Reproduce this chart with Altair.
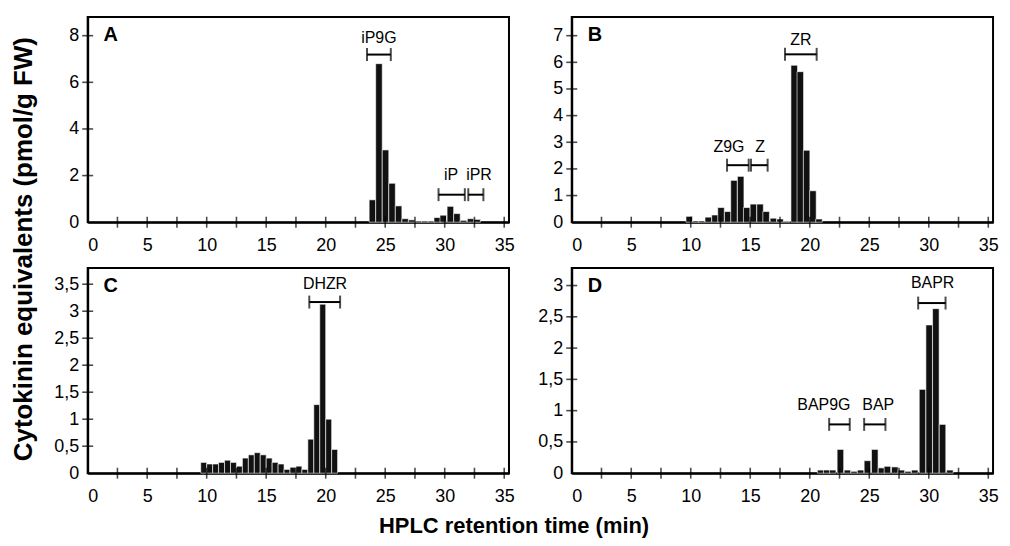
import altair as alt
import pandas as pd

FONT = "Liberation Sans"

# ---------------- data ----------------
# Panel A
a_start = [23.65, 24.2, 24.75, 25.3, 25.85, 26.4, 26.95, 27.5, 28.05, 28.6,
           29.1, 29.6, 30.2, 30.75, 31.3, 31.9, 32.45]
a_val = [0.96, 6.8, 3.1, 1.67, 0.7, 0.15, 0.1, 0.05, 0.05, 0.05,
         0.2, 0.3, 0.68, 0.37, 0.08, 0.15, 0.12]
a_width = 0.55

# Panel B
b_start = [9.6, 10.17, 10.64, 11.2, 11.76, 12.27, 12.83, 13.36, 13.92, 14.43,
           14.99, 15.55, 16.06, 16.67, 17.23, 17.8, 18.42, 18.93, 19.46, 19.99, 20.5]
b_val = [0.22, 0.05, 0.05, 0.19, 0.27, 0.55, 0.4, 1.57, 1.72, 0.55,
         0.68, 0.68, 0.4, 0.15, 0.12, 0.03, 5.89, 5.65, 2.7, 1.18, 0.12]
b_width = 0.55

# Panel C
c_start = [9.5, 10.0, 10.5, 11.0, 11.5, 12.0, 12.5, 13.0, 13.5, 14.0, 14.5, 15.0,
           15.5, 16.0, 16.5, 17.0, 17.5, 18.0, 18.5, 19.0, 19.5, 20.0, 20.5]
c_val = [0.2, 0.17, 0.17, 0.2, 0.24, 0.2, 0.13, 0.28, 0.34, 0.38, 0.34, 0.28,
         0.2, 0.17, 0.07, 0.11, 0.13, 0.07, 0.63, 1.27, 3.13, 1.0, 0.44]
c_width = 0.5

# Panel D
d_start = [20.64, 21.15, 21.65, 22.3, 22.89, 23.45, 24.0, 24.57, 25.19, 25.75,
           26.25, 26.87, 27.43, 27.99, 28.55, 29.2, 29.76, 30.32, 30.88, 31.5]
d_val = [0.05, 0.05, 0.05, 0.38, 0.05, 0.03, 0.05, 0.2, 0.38, 0.085,
         0.11, 0.1, 0.05, 0.03, 0.05, 1.34, 2.37, 2.63, 0.78, 0.05]
d_width = 0.55

# Brackets: label, start, end, bracket level, label x, label y
a_br_label = ["iP9G", "iP", "iPR"]
a_br_x1 = [23.47, 29.48, 31.98]
a_br_x2 = [25.47, 31.69, 33.25]
a_br_y = [7.19, 1.18, 1.18]
a_lb_x = [24.47, 30.53, 32.88]
a_lb_y = [7.89, 2.03, 2.03]

b_br_label = ["ZR", "Z9G", "Z"]
b_br_x1 = [17.92, 13.05, 15.06]
b_br_x2 = [20.58, 14.87, 16.46]
b_br_y = [6.3, 2.14, 2.14]
b_lb_x = [19.26, 13.21, 15.83]
b_lb_y = [6.84, 2.81, 2.81]

c_br_label = ["DHZR"]
c_br_x1 = [18.62]
c_br_x2 = [21.21]
c_br_y = [3.17]
c_lb_x = [19.94]
c_lb_y = [3.51]

d_br_label = ["BAPR", "BAP9G", "BAP"]
d_br_x1 = [29.11, 21.63, 24.57]
d_br_x2 = [31.41, 23.36, 26.36]
d_br_y = [2.72, 0.78, 0.78]
d_lb_x = [30.32, 21.19, 25.75]
d_lb_y = [3.04, 1.09, 1.09]

# Axes
x_labels = [0, 5, 10, 15, 20, 25, 30, 35]
x_ticks = [2.5, 5, 7.5, 10, 12.5, 15, 17.5, 20, 22.5, 25, 27.5, 30, 32.5, 35]
x_max = 35.4

a_yticks = [0, 2, 4, 6, 8]
b_yticks = [0, 1, 2, 3, 4, 5, 6, 7]
c_yticks = [0, 0.5, 1, 1.5, 2, 2.5, 3, 3.5]
d_yticks = [0, 0.5, 1, 1.5, 2, 2.5, 3]
a_ymax, b_ymax, c_ymax, d_ymax = 8.8, 7.7, 3.8, 3.28

W, H = 423, 206
BAR = "#111111"


def panel(letter, starts, vals, width, ymax, yticks,
          br_label, br_x1, br_x2, br_y, lb_x, lb_y):
    xs = alt.Scale(domain=[0, x_max], nice=False, zero=False)
    ys = alt.Scale(domain=[0, ymax], nice=False, zero=False)
    xa = alt.Axis(values=x_labels, labelPadding=14, title=None)
    ya = alt.Axis(values=yticks, labelPadding=9, title=None,
                  labelExpr="replace(format(datum.value, '~g'), '.', ',')")

    def X(f):
        return alt.X(f, scale=xs, axis=xa, title=None)

    def Y(f):
        return alt.Y(f, scale=ys, axis=ya, title=None)

    bars_df = pd.DataFrame({"start": starts, "value": vals})
    bars_df["end"] = bars_df["start"] + width
    bars_df["zero"] = 0.0
    bars = alt.Chart(bars_df).mark_bar(
        color=BAR, stroke="white", strokeWidth=0.6
    ).encode(x=X("start:Q"), x2="end:Q", y=Y("value:Q"), y2="zero:Q")

    xt_df = pd.DataFrame({"t": x_ticks, "z": [0] * len(x_ticks)})
    xt = alt.Chart(xt_df).mark_tick(
        orient="vertical", size=11, thickness=1.6, color="black"
    ).encode(x=X("t:Q"), y=Y("z:Q"))

    yt_vals = [v for v in yticks if v > 0]
    yt_df = pd.DataFrame({"t": yt_vals, "z": [0] * len(yt_vals)})
    yt = alt.Chart(yt_df).mark_tick(
        orient="horizontal", size=11, thickness=1.6, color="black"
    ).encode(x=X("z:Q"), y=Y("t:Q"))

    br_df = pd.DataFrame({"label": br_label, "x1": br_x1, "x2": br_x2,
                          "y": br_y, "lx": lb_x, "ly": lb_y})
    br_line = alt.Chart(br_df).mark_rule(strokeWidth=2, color="black").encode(
        x=X("x1:Q"), x2="x2:Q", y=Y("y:Q"))
    caps_df = pd.DataFrame({"x": br_x1 + br_x2, "y": br_y + br_y})
    br_caps = alt.Chart(caps_df).mark_tick(
        orient="vertical", size=13, thickness=2, color="black"
    ).encode(x=X("x:Q"), y=Y("y:Q"))
    br_text = alt.Chart(br_df).mark_text(
        font=FONT, fontSize=16, color="black", baseline="middle", align="center"
    ).encode(x=X("lx:Q"), y=Y("ly:Q"), text="label:N")

    letter_df = pd.DataFrame({"letter": [letter]})
    let = alt.Chart(letter_df).mark_text(
        font=FONT, fontSize=20, fontWeight="bold", color="black",
        align="left", baseline="top"
    ).encode(x=alt.value(16), y=alt.value(8), text="letter:N")

    return alt.layer(bars, xt, yt, br_line, br_caps, br_text, let).properties(
        width=W, height=H)


pA = panel("A", a_start, a_val, a_width, a_ymax, a_yticks,
           a_br_label, a_br_x1, a_br_x2, a_br_y, a_lb_x, a_lb_y)
pB = panel("B", b_start, b_val, b_width, b_ymax, b_yticks,
           b_br_label, b_br_x1, b_br_x2, b_br_y, b_lb_x, b_lb_y)
pC = panel("C", c_start, c_val, c_width, c_ymax, c_yticks,
           c_br_label, c_br_x1, c_br_x2, c_br_y, c_lb_x, c_lb_y)
pD = panel("D", d_start, d_val, d_width, d_ymax, d_yticks,
           d_br_label, d_br_x1, d_br_x2, d_br_y, d_lb_x, d_lb_y)

inner = alt.concat(
    pA, pB, pC, pD, columns=2,
    spacing={"row": 46, "column": 63}, bounds="flush",
    title=alt.TitleParams("Cytokinin equivalents (pmol/g FW)", orient="left",
                          anchor="middle", font=FONT, fontSize=26,
                          fontWeight="bold", color="black", offset=16, dx=12),
)

chart = alt.vconcat(
    inner,
    title=alt.TitleParams("HPLC retention time (min)", orient="bottom",
                          anchor="middle", font=FONT, fontSize=22,
                          fontWeight="bold", color="black", offset=10, dx=9),
).properties(
    padding={"left": 2, "top": 7, "right": 2, "bottom": 2},
    background="white",
).configure_view(
    stroke="black", strokeWidth=2
).configure_axis(
    domainColor="black", domainWidth=2, ticks=False, grid=False,
    labelFont=FONT, labelFontSize=18, labelColor="black"
)

chart.save("out.html", embed_options={"renderer": "svg", "actions": False})
